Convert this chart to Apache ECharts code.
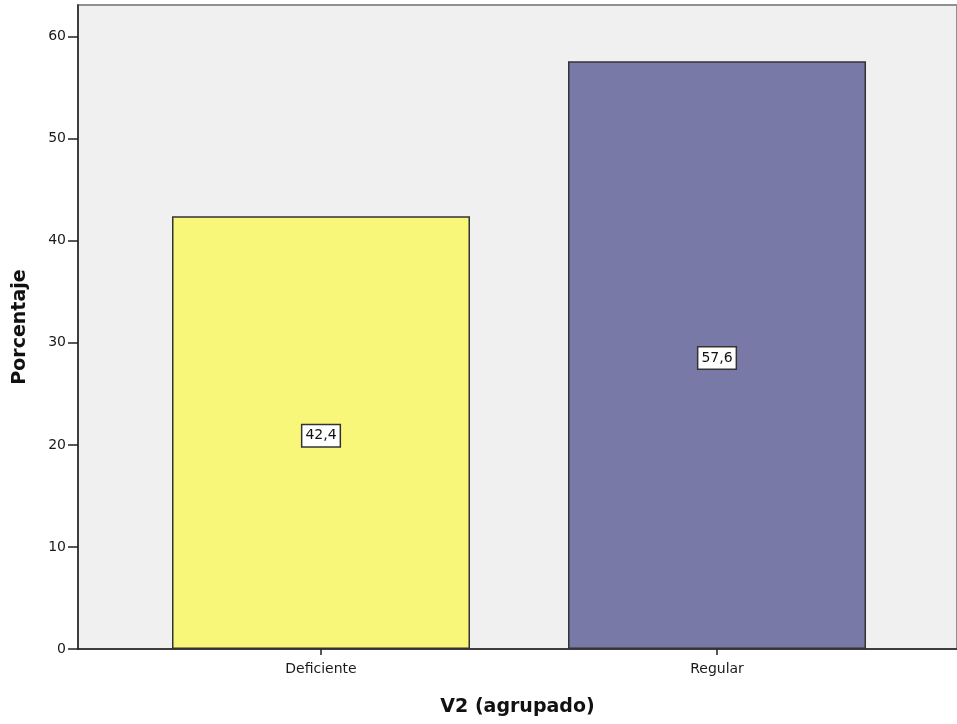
<!DOCTYPE html>
<html>
<head>
<meta charset="utf-8">
<script src="https://cdn.jsdelivr.net/npm/echarts@6/dist/echarts.min.js"></script>
<style>html,body{margin:0;padding:0;background:#fff}#c{width:957px;height:724px}</style>
</head>
<body>
<div id="c"></div>
<script>
const categories = ['Deficiente', 'Regular'];
const values = [42.4, 57.6];
const barColors = ['#f9f779', '#7979a8'];
const yTicks = [0, 10, 20, 30, 40, 50, 60];

const chart = echarts.init(document.getElementById('c'));
chart.setOption({
  animation: false,
  grid: {left: 78, right: -3, top: 5, bottom: 75, show: true, backgroundColor: '#f0f0f0', borderColor: '#909090', borderWidth: 2},
  xAxis: {
    type: 'value', min: -0.6136, max: 1.606,
    name: 'V2 (agrupado)', nameLocation: 'middle', nameGap: 49,
    nameTextStyle: {fontFamily: 'DejaVu Sans', fontWeight: 'bold', fontSize: 19, color: '#111'},
    axisLine: {show: true, onZero: false, lineStyle: {color: '#222', width: 1.5}},
    axisTick: {show: true, length: 6, customValues: [0, 1], lineStyle: {color: '#222', width: 1.5}},
    axisLabel: {customValues: [0, 1], margin: 13, fontFamily: 'DejaVu Sans', fontSize: 14, color: '#1a1a1a',
      formatter: v => categories[Math.round(v)] || ''},
    splitLine: {show: false}
  },
  yAxis: {
    type: 'value', min: 0, max: 63.1, interval: 10,
    name: 'Porcentaje', nameLocation: 'middle', nameGap: 48,
    nameTextStyle: {fontFamily: 'DejaVu Sans', fontWeight: 'bold', fontSize: 19, color: '#111'},
    axisLine: {show: true, onZero: false, lineStyle: {color: '#222', width: 1.5}},
    axisTick: {show: true, length: 10, customValues: yTicks, lineStyle: {color: '#222', width: 1.5}},
    axisLabel: {customValues: yTicks, margin: 12, fontFamily: 'DejaVu Sans', fontSize: 14, color: '#1a1a1a'},
    splitLine: {show: false}
  },
  series: [{
    type: 'bar',
    barWidth: 298,
    data: values.map((v, i) => ({value: [i, v], itemStyle: {color: barColors[i]}})),
    itemStyle: {borderColor: '#333', borderWidth: 1.5},
    label: {
      show: true, position: 'inside', offset: [0, 3],
      formatter: p => String(p.value[1]).replace('.', ','),
      fontFamily: 'DejaVu Sans', fontSize: 14, color: '#111',
      backgroundColor: '#fff', borderColor: '#333', borderWidth: 1.5,
      padding: [4, 3, 3, 3]
    }
  }]
});
</script>
</body>
</html>
